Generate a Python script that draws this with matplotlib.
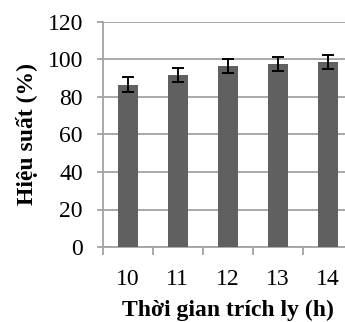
import matplotlib.pyplot as plt
import numpy as np

hours = ["10", "11", "12", "13", "14"]
yield_pct = [86.5, 91.8, 96.5, 97.5, 98.6]
yield_err = [3.9, 3.9, 3.8, 3.6, 3.8]

plt.rcParams['font.family'] = ['Liberation Serif', 'DejaVu Serif']

fig = plt.figure(figsize=(3.45, 3.22), dpi=100)
# the plot area runs past the right edge of the picture, as in the original
ax = fig.add_axes([102.7 / 345, 1 - 247 / 322, 250 / 345, (247 - 22) / 322])

x = np.arange(len(hours))
ax.bar(x, yield_pct, width=0.4, color="#606060", zorder=3)
ax.errorbar(x, yield_pct, yerr=yield_err, fmt="none", ecolor="black",
            elinewidth=1.4, capsize=4.5, capthick=1.4, zorder=4)

ax.set_xlim(-0.5, len(hours) - 0.5)
ax.set_ylim(0, 120)
ax.set_yticks(range(0, 121, 20))
ax.yaxis.grid(True, color="#a3a3a3", linewidth=1.3, zorder=0)

ax.set_xticks(x)
ax.set_xticklabels(hours)
ax.set_xticks(np.arange(-0.5, len(hours)), minor=True)
ax.tick_params(axis="x", which="major", length=0, pad=16, labelsize=17)
ax.tick_params(axis="x", which="minor", length=6, color="#a3a3a3", width=1.3)
ax.tick_params(axis="y", length=4.3, color="#a3a3a3", width=1.3, labelsize=17, pad=10)

for side in ["top", "right"]:
    ax.spines[side].set_visible(False)
for side in ["left", "bottom"]:
    ax.spines[side].set_color("#a3a3a3")
    ax.spines[side].set_linewidth(1.3)

ax.set_xlabel("Thời gian trích ly (h)", fontsize=17, fontweight="bold", labelpad=7)
ax.set_ylabel("Hiệu suất (%)", fontsize=17, fontweight="bold", labelpad=7)

fig.savefig("out.png", dpi=100)
